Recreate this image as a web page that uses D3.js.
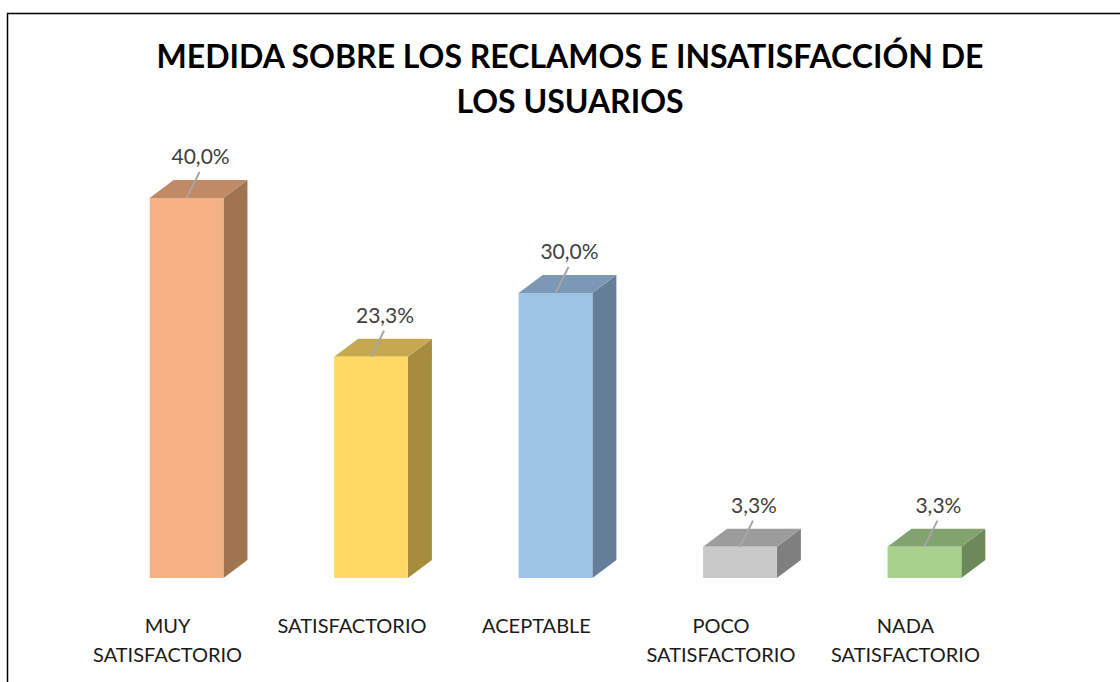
<!DOCTYPE html>
<html>
<head>
<meta charset="utf-8">
<script src="https://cdn.jsdelivr.net/npm/d3@7"></script>
<style>
  body { margin: 0; background: #fff; }
  svg { display: block; }
</style>
</head>
<body>
<div id="chart"></div>
<script>
// chart data
var categories = ["MUY SATISFACTORIO", "SATISFACTORIO", "ACEPTABLE", "POCO SATISFACTORIO", "NADA SATISFACTORIO"];
var labelLines = [["MUY", "SATISFACTORIO"], ["SATISFACTORIO"], ["ACEPTABLE"], ["POCO", "SATISFACTORIO"], ["NADA", "SATISFACTORIO"]];
var percents = [40.0, 23.3, 30.0, 3.3, 3.3];
var titleLines = ["MEDIDA SOBRE LOS RECLAMOS E INSATISFACCIÓN DE", "LOS USUARIOS"];

var frontColors = ["#F4B183", "#FFD966", "#9DC3E6", "#C9C9C9", "#A9D18E"];
var topColors = ["#BF8A65", "#C6A84F", "#7B99B7", "#9C9C9C", "#83A36E"];
var sideColors = ["#A0744F", "#A68D3E", "#647D99", "#7F7F7F", "#6C8959"];

var svgWidth = 1120;
var svgHeight = 682;
var depthX = 24, depthY = 18;

var svg = d3.select("#chart")
  .append("svg")
  .attr("width", svgWidth)
  .attr("height", svgHeight);

// outer frame (top and left edge visible)
svg.append("path")
  .attr("d", "M7.5,682 V13.5 H1120")
  .attr("fill", "none")
  .attr("stroke", "#000")
  .attr("stroke-width", 1.5);

// title
svg.append("text")
  .attr("text-anchor", "middle")
  .attr("font-family", "Lato, sans-serif")
  .attr("font-weight", "bold")
  .attr("font-size", "32px")
  .attr("fill", "#000")
  .selectAll("tspan")
  .data(titleLines)
  .enter()
  .append("tspan")
  .attr("x", 570)
  .attr("y", (d, i) => 68 + i * 45)
  .text(d => d);

var data = categories.map((c, i) => ({ cat: c, lines: labelLines[i], value: percents[i], i: i }));

var xScale = d3.scaleBand()
  .domain(categories)
  .range([39, 1072])
  .padding(0.6);

var yScale = d3.scaleLinear()
  .domain([0, 40])
  .range([578, 198]);

var bw = xScale.bandwidth();

var bars = svg.selectAll(".bar")
  .data(data)
  .enter()
  .append("g")
  .attr("class", "bar");

// side face
bars.append("path")
  .attr("d", d => {
    var x1 = xScale(d.cat) + bw, top = yScale(d.value), base = yScale(0);
    return `M${x1},${top} L${x1 + depthX},${top - depthY} L${x1 + depthX},${base - depthY} L${x1},${base} Z`;
  })
  .attr("fill", d => sideColors[d.i]);

// top face
bars.append("path")
  .attr("d", d => {
    var x0 = xScale(d.cat), top = yScale(d.value);
    return `M${x0},${top} L${x0 + depthX},${top - depthY} L${x0 + bw + depthX},${top - depthY} L${x0 + bw},${top} Z`;
  })
  .attr("fill", d => topColors[d.i]);

// front face
bars.append("rect")
  .attr("x", d => xScale(d.cat))
  .attr("y", d => yScale(d.value))
  .attr("width", bw)
  .attr("height", d => yScale(0) - yScale(d.value))
  .attr("fill", d => frontColors[d.i]);

// leader lines
bars.append("line")
  .attr("x1", d => xScale(d.cat) + bw / 2)
  .attr("y1", d => yScale(d.value))
  .attr("x2", d => xScale(d.cat) + bw / 2 + 13)
  .attr("y2", d => yScale(d.value) - 26)
  .attr("stroke", "#a6a6a6")
  .attr("stroke-width", 2);

// value labels
bars.append("text")
  .attr("x", d => xScale(d.cat) + bw / 2 + 14)
  .attr("y", d => yScale(d.value) - 34)
  .attr("text-anchor", "middle")
  .attr("font-family", "Lato, sans-serif")
  .attr("font-size", "21px")
  .attr("fill", "#404040")
  .text(d => d3.format(".1f")(d.value).replace(".", ",") + "%");

// category labels
bars.append("text")
  .attr("text-anchor", "middle")
  .attr("font-family", "Lato, sans-serif")
  .attr("font-size", "20px")
  .attr("fill", "#1a1a1a")
  .selectAll("tspan")
  .data(d => d.lines.map(l => ({ t: l, cat: d.cat })))
  .enter()
  .append("tspan")
  .attr("x", d => xScale(d.cat) + bw / 2 - 19)
  .attr("y", (d, i) => 633 + i * 29)
  .text(d => d.t);
</script>
</body>
</html>
